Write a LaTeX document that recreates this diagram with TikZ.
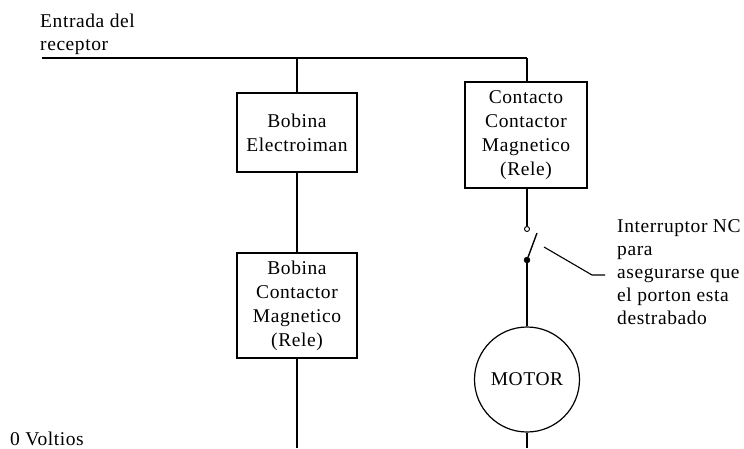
\documentclass[tikz,border=0pt]{standalone}
\usepackage{fontspec}
\setmainfont[LetterSpace=3]{Liberation Serif}
\tikzset{
  wire/.style={draw=black,line width=1.4pt},
  box/.style={draw=black,line width=1.5pt,fill=white,inner sep=0pt,align=center,font=\fontsize{19.5}{24}\selectfont},
  label/.style={inner sep=0pt,align=left,font=\fontsize{19.5}{23}\selectfont,text=black},
}
\begin{document}
\begin{tikzpicture}[x=1pt,y=-1pt]
\useasboundingbox (0,0) rectangle (744,448);
\coordinate (L) at (42,58);
\coordinate (J1) at (297,58);
\coordinate (J2) at (527,58);
\node[box,minimum width=120pt,minimum height=79pt] (b1) at (297,132.5) {Bobina\\Electroiman};
\node[box,minimum width=120pt,minimum height=105pt] (b2) at (297,305.5) {Bobina\\Contactor\\Magnetico\\(Rele)};
\node[box,minimum width=122pt,minimum height=106pt] (b3) at (526,135) {Contacto\\Contactor\\Magnetico\\(Rele)};
\node[circle,draw=black,line width=1.2pt,minimum size=105pt,inner sep=0pt,font=\fontsize{19.5}{24}\selectfont] (m) at (527,379.5) {MOTOR};
\node[circle,draw=black,line width=.9pt,fill=white,minimum size=5pt,inner sep=0pt] (c1) at (527,229) {};
\node[circle,draw=black,fill=black,minimum size=6pt,inner sep=0pt] (c2) at (527,260) {};
\coordinate (sw) at (537,233);
\coordinate (p1) at (544,247);
\coordinate (p2) at (592,275);
\coordinate (p3) at (605,275);
\coordinate (B1) at (297,448);
\coordinate (B2) at (527,448);
\draw[wire] (L) -- (J2);
\draw[wire] (J1) -- (J1 |- b1.north);
\draw[wire] (J1 |- b1.south) -- (J1 |- b2.north);
\draw[wire] (J2) -- (J2 |- b3.north);
\draw[wire] (J1 |- b2.south) -- (B1);
\draw[wire] (b3.south -| c1) -- (c1);
\draw[wire] (c2) -- (sw);
\draw[wire] (c2) -- (m);
\draw[wire] (m) -- (B2);
\draw[line width=1.1pt] (p1) -- (p2) -- (p3);
\node[label,anchor=north west] (t1) at (40,13.7) {Entrada del\\receptor};
\node[label,anchor=base west] (t2) at (10,445) {0 Voltios};
\node[label,anchor=north west] (t3) at (617,219) {Interruptor NC\\para\\asegurarse que\\el porton esta\\destrabado};
\end{tikzpicture}
\end{document}
